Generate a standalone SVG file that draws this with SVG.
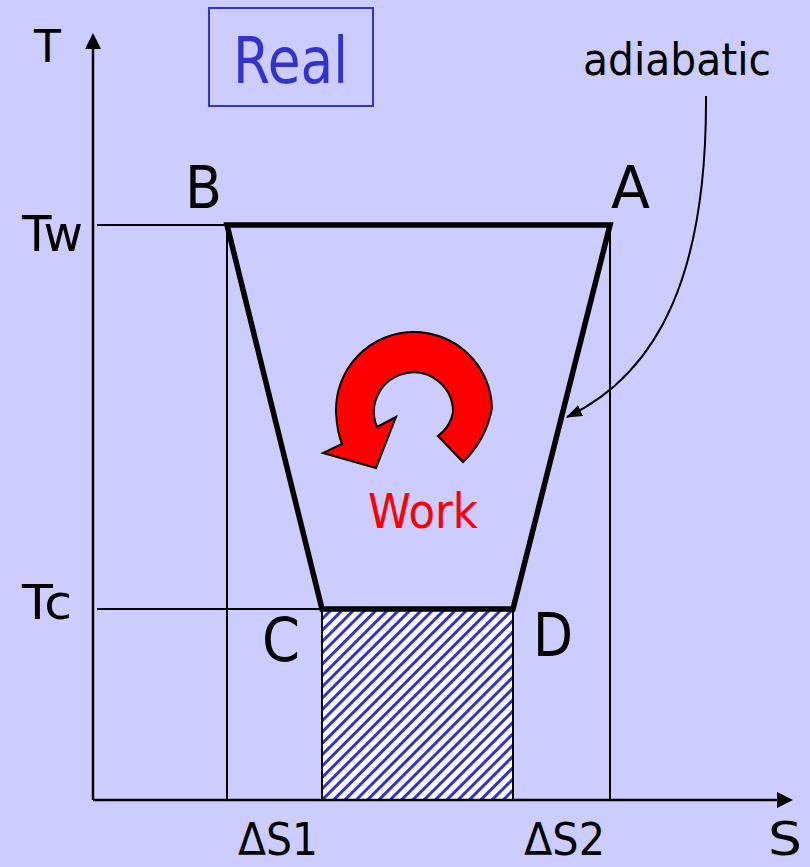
<svg xmlns="http://www.w3.org/2000/svg" width="810" height="867" viewBox="0 0 810 867">
<style>
.t{font-family:"DejaVu Sans","Verdana",sans-serif;fill:#000}
.thin{stroke:#000;stroke-width:2;fill:none}
</style>
<defs>
<pattern id="hatch" patternUnits="userSpaceOnUse" width="8" height="8" patternTransform="rotate(45)">
<rect width="8" height="8" fill="#fff"/>
<rect width="3" height="8" fill="#3333cc"/>
</pattern>
<marker id="ah" markerWidth="16" markerHeight="12" refX="15" refY="6" orient="auto" markerUnits="userSpaceOnUse">
<path d="M0,0 L16,6 L0,12 Z" fill="#000"/>
</marker>
</defs>
<rect width="810" height="867" fill="#ccccff"/>

<g id="hatched-area">
<rect x="322" y="609" width="191" height="191" fill="url(#hatch)" stroke="#000" stroke-width="2"/>
</g>

<g id="connectors">
<line class="thin" x1="97" y1="225" x2="227" y2="225"/>
<line class="thin" x1="97" y1="609" x2="322" y2="609"/>
<line class="thin" x1="227" y1="225" x2="227" y2="800"/>
<line class="thin" x1="610" y1="225" x2="610" y2="800"/>
<line x1="93" y1="800" x2="93" y2="46" stroke="#000" stroke-width="2.5"/>
<path d="M93,33 L101,49 L85,49 Z" fill="#000"/>
<line x1="93" y1="800" x2="778" y2="800" stroke="#000" stroke-width="2.5"/>
<path d="M793,800 L777,792 L777,808 Z" fill="#000"/>
<path d="M706,96 C707,268 662,372 567,417" fill="none" stroke="#000" stroke-width="2" marker-end="url(#ah)"/>
</g>

<g id="cycle">
<path d="M227,225 L610,225 L513,609 L322,609 Z" fill="none" stroke="#000" stroke-width="5.5" stroke-linejoin="miter"/>
</g>

<g id="work-arrow">
<path d="M463,462 Q486,440 492,408 A78,78 0 0 0 336,412 Q337,432 342,444 L323,453 L376,468 L396,417 L377,427 A39.5,39.5 0 1 1 453,412 Q451,426 438,436 Z" fill="#ff0000" stroke="#000" stroke-width="2" stroke-linejoin="miter"/>
</g>

<g id="title">
<rect x="209" y="8" width="164" height="98" fill="none" stroke="#3333cc" stroke-width="2"/>
<text class="t" x="233" y="83" font-size="64" textLength="115" lengthAdjust="spacingAndGlyphs" style="fill:#3333cc">Real</text>
</g>

<g id="labels">
<text class="t" x="34" y="62" font-size="45" textLength="27" lengthAdjust="spacingAndGlyphs">T</text>
<text class="t" x="22" y="251" font-size="49" textLength="61" lengthAdjust="spacingAndGlyphs">Tw</text>
<text class="t" x="22" y="619" font-size="48" textLength="50" lengthAdjust="spacingAndGlyphs">Tc</text>
<text class="t" x="185" y="208" font-size="59" textLength="37" lengthAdjust="spacingAndGlyphs">B</text>
<text class="t" x="611" y="208" font-size="59" textLength="39" lengthAdjust="spacingAndGlyphs">A</text>
<text class="t" x="262" y="661" font-size="60" textLength="38" lengthAdjust="spacingAndGlyphs">C</text>
<text class="t" x="533" y="656" font-size="60" textLength="40" lengthAdjust="spacingAndGlyphs">D</text>
<text class="t" x="583" y="75" font-size="44" textLength="188" lengthAdjust="spacingAndGlyphs">adiabatic</text>
<text class="t" x="368" y="528" font-size="48" textLength="110" lengthAdjust="spacingAndGlyphs" style="fill:#ff0000">Work</text>
<text class="t" x="238" y="855" font-size="44" textLength="80" lengthAdjust="spacingAndGlyphs">ΔS1</text>
<text class="t" x="524" y="855" font-size="44" textLength="81" lengthAdjust="spacingAndGlyphs">ΔS2</text>
<text class="t" x="768" y="855" font-size="47" textLength="34" lengthAdjust="spacingAndGlyphs">S</text>
</g>
</svg>
